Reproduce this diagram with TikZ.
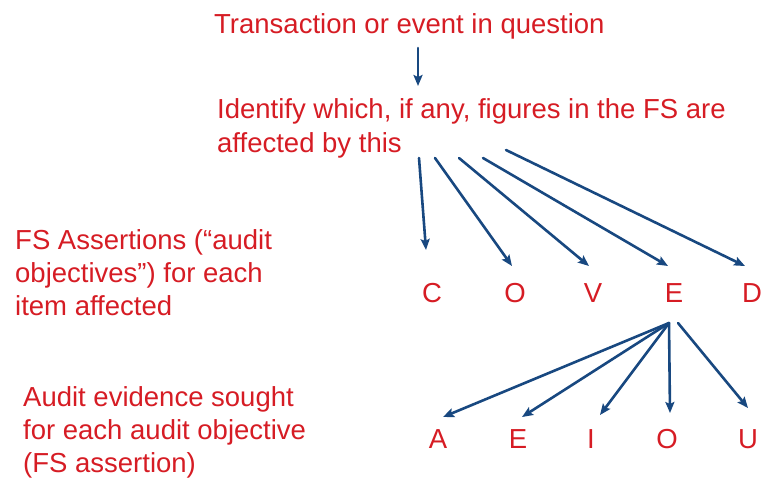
\documentclass[tikz,border=0pt]{standalone}
\usepackage{fontspec}
\setmainfont{Liberation Sans}
\usetikzlibrary{arrows.meta}

\begin{document}
\begin{tikzpicture}
		[x=1pt,y=-1pt,line cap=round,
		%Styles
		label text/.style={text=textred,inner sep=0pt,anchor=base west,align=left,font=\fontsize{27.5}{33}\selectfont},
		letter/.style={text=textred,inner sep=0pt,anchor=base,font=\fontsize{27.5}{33}\selectfont},
		link/.style={draw=linkblue,line width=2.6pt,-{Stealth[length=11pt,width=9pt,inset=2pt]}}
		]
		
		%Colors
		\definecolor{textred}{RGB}{214,28,36}	%all text
		\definecolor{linkblue}{RGB}{24,72,128}	%arrows
		\useasboundingbox (0,0) rectangle (765,485);
		
		%The graphic (base of a multi-line node = its last line)
		\node[label text] (event) at (214,33) {Transaction or event in question};
		\node[label text,font=\fontsize{27.5}{34.5}\selectfont] (figures) at (217,152.5) {Identify which, if any, figures in the FS are\\affected by this};
		\node[label text] (assertions) at (15,315) {FS Assertions (“audit\\objectives”) for each\\item affected};
		\node[label text] (evidence) at (23,472) {Audit evidence sought\\for each audit objective\\(FS assertion)};
		\foreach \l/\x in {C/432,O/515,V/593,E/674,D/752}
			\node[letter] (a\l) at (\x,302) {\l};
		\foreach \l/\x in {A/438,E/518,I/591,O/667,U/748}
			\node[letter] (e\l) at (\x,448) {\l};
		
		\coordinate (drop) at (418,48);
		\coordinate (drop end) at (418,86);
		\draw[link] (drop) -- (drop end);
		
		\coordinate (f1) at (419,158);
		\coordinate (f2) at (435,158);
		\coordinate (f3) at (459,158);
		\coordinate (f4) at (483,158);
		\coordinate (f5) at (506,150);
		\draw[link] (f1) -- ([shift={(-6pt,52pt)}]aC.base);
		\draw[link] (f2) -- ([shift={(-3pt,36pt)}]aO.base);
		\draw[link] (f3) -- ([shift={(-4pt,36pt)}]aV.base);
		\draw[link] (f4) -- ([shift={(-6pt,36pt)}]aE.base);
		\draw[link] (f5) -- ([shift={(-7pt,36pt)}]aD.base);
		
		\coordinate (g1) at ([shift={(-5pt,-21pt)}]aE.base);
		\coordinate (g2) at ([shift={(4pt,-21pt)}]aE.base);
		\draw[link] (g1) -- ([shift={(5pt,31pt)}]eA.base);
		\draw[link] (g1) -- ([shift={(4pt,31pt)}]eE.base);
		\draw[link] (g1) -- ([shift={(9pt,33pt)}]eI.base);
		\draw[link] (g1) -- ([shift={(3pt,35pt)}]eO.base);
		\draw[link] (g2) -- ([shift={(0pt,40pt)}]eU.base);
	\end{tikzpicture}
\end{document}
